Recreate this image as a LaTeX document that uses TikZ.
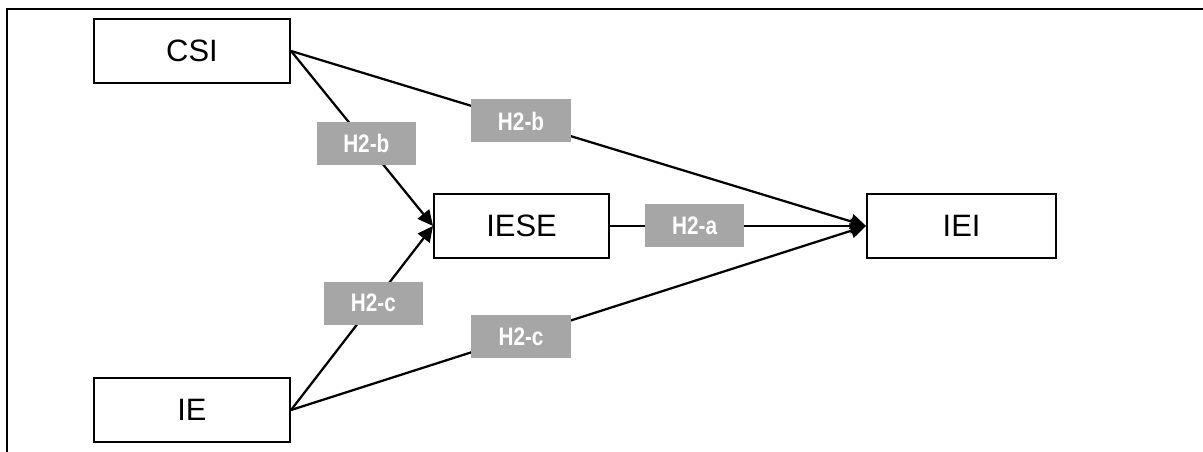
\documentclass[tikz,border=0pt]{standalone}
\usepackage{fontspec}
\setmainfont{Liberation Sans}
\newfontfamily\hypfont[FakeStretch=0.82]{Liberation Sans}
\usetikzlibrary{arrows.meta}
\tikzset{
    var/.style={draw,line width=1.5pt,minimum height=1.6cm,inner sep=0pt,
        font=\fontsize{22}{26}\selectfont},
    hyp/.style={fill=gray!70,text=white,minimum width=2.48cm,minimum height=1.075cm,
        inner sep=0pt,font=\hypfont\bfseries\fontsize{18}{21}\selectfont},
    path/.style={line width=1.6pt,-{Triangle[length=11pt,width=10.5pt]}}
}
\begin{document}
\begin{tikzpicture}
    \useasboundingbox (0,0) rectangle (30.075,11.3);
    \draw[line width=1.5pt] (0.175,0) -- (0.175,11.075) -- (30.075,11.075);

    \node[var,minimum width=4.9cm] (csi) at (4.8,10.025) {CSI};
    \node[var,minimum width=4.9cm] (ie) at (4.8,1.05) {IE};
    \node[var,minimum width=4.375cm] (iese) at (13.04,5.65) {IESE};
    \node[var,minimum width=4.725cm] (iei) at (24.04,5.65) {IEI};

    \draw[path] (csi.east) -- (iese.west) node[hyp,pos=0.53] {H2-b};
    \draw[path] (csi.east) -- (iei.west) node[hyp,pos=0.4] {H2-b};
    \draw[path] (ie.east) -- (iese.west) node[hyp,pos=0.58] {H2-c};
    \draw[path] (ie.east) -- (iei.west) node[hyp,pos=0.4] {H2-c};
    \draw[path] (iese.east) -- (iei.west) node[hyp,pos=0.33] {H2-a};
\end{tikzpicture}
\end{document}
